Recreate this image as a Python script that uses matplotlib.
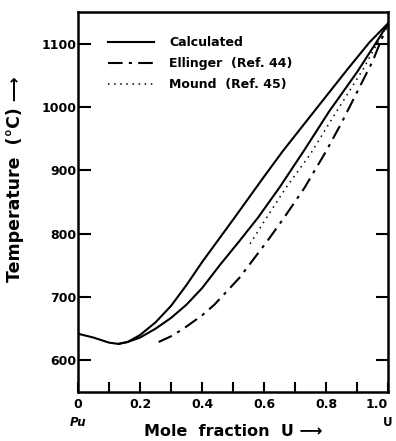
import matplotlib.pyplot as plt

# Pu-U phase diagram: liquidus/solidus, calculated vs. literature
calc_liq_x = [0.0, 0.05, 0.10, 0.13, 0.16, 0.20, 0.25, 0.30, 0.35, 0.40, 0.50,
              0.60, 0.66, 0.76, 0.87, 0.94, 1.0]
calc_liq_t = [642, 636, 628, 626, 629, 640, 660, 686, 719, 755, 822,
              890, 930, 992, 1060, 1102, 1132]

calc_sol_x = [0.13, 0.16, 0.20, 0.25, 0.30, 0.35, 0.40, 0.46, 0.52, 0.58, 0.65,
              0.73, 0.81, 0.90, 0.97, 1.0]
calc_sol_t = [626, 629, 636, 650, 667, 688, 714, 752, 788, 825, 873,
              932, 993, 1055, 1108, 1132]

ellinger_x = [0.26, 0.30, 0.34, 0.40, 0.44, 0.52, 0.61, 0.66, 0.73, 0.80, 0.85, 0.95, 1.0]
ellinger_t = [629, 638, 650, 671, 688, 730, 788, 822, 872, 930, 975, 1072, 1132]

mound_x = [0.555, 0.60, 0.67, 0.75, 0.82, 0.92, 1.0]
mound_t = [784, 819, 872, 926, 982, 1060, 1132]

x_ticks = [0, 0.2, 0.4, 0.6, 0.8, 1.0]
x_minor = [0.1, 0.3, 0.5, 0.7, 0.9]
x_tick_labels = ['0', '0.2', '0.4', '0.6', '0.8', '1.0']
y_ticks = [600, 700, 800, 900, 1000, 1100]

plt.rcParams['font.family'] = 'DejaVu Sans'
plt.rcParams['font.weight'] = 'bold'

fig = plt.figure(figsize=(3.96, 4.41), dpi=100)
ax = fig.add_axes([0.197, 0.111, 0.783, 0.862])

lw = 1.5
ax.plot(calc_liq_x, calc_liq_t, color='black', lw=lw, label='Calculated')
ax.plot(calc_sol_x, calc_sol_t, color='black', lw=lw)
ax.plot(ellinger_x, ellinger_t, color='black', lw=lw,
        linestyle=(0, (7, 3, 1.5, 3)), label='Ellinger  (Ref. 44)')
ax.plot(mound_x, mound_t, color='black', lw=1.1,
        linestyle=(0, (1, 3)), label='Mound  (Ref. 45)')

ax.set_xlim(0, 1.0)
ax.set_ylim(550, 1150)

ax.set_xticks(x_ticks)
ax.set_xticklabels(x_tick_labels)
ax.set_xticks(x_minor, minor=True)
ax.set_yticks(y_ticks)
ax.tick_params(axis='both', direction='in', width=1.5, labelsize=9)
ax.tick_params(axis='x', which='major', length=7, pad=4)
ax.tick_params(axis='x', which='minor', length=7, width=1.5, direction='in')
ax.tick_params(axis='y', which='major', length=9, pad=1, right=True)
ax.get_xticklabels()[-1].set_horizontalalignment('right')

for s in ax.spines.values():
    s.set_linewidth(1.8)

ax.set_xlabel('Mole  fraction  U ⟶', fontsize=11.5, fontweight='bold', labelpad=10)
ax.set_ylabel('Temperature  (°C) ⟶', fontsize=12.5, fontweight='bold')
ax.yaxis.set_label_coords(-0.175, 0.56)

ax.text(0.0, -0.08, 'Pu', transform=ax.transAxes, fontsize=8.5, fontweight='bold',
        ha='center', va='center', style='italic')
ax.text(1.0, -0.08, 'U', transform=ax.transAxes, fontsize=8.5, fontweight='bold',
        ha='center', va='center')

ax.legend(loc='upper left', bbox_to_anchor=(0.06, 0.965), frameon=False,
          handlelength=3.7, handletextpad=1.2, labelspacing=0.62,
          prop={'weight': 'bold', 'size': 9})

fig.savefig('out.png', dpi=100)
